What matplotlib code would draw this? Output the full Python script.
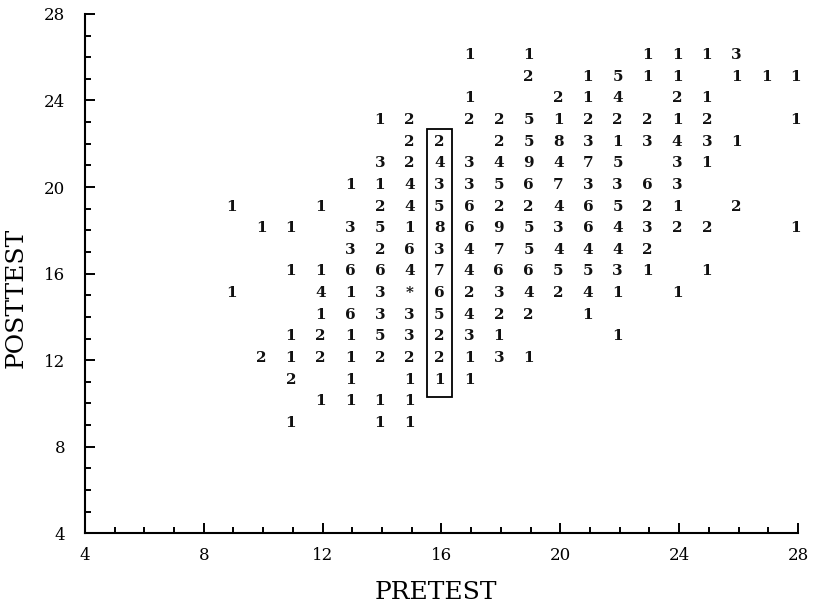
"""Pretest/posttest frequency plot: counts drawn at each score pair."""

import matplotlib.pyplot as plt
from matplotlib.patches import Rectangle
from matplotlib.ticker import MultipleLocator

# Pretest scores along the columns, posttest scores down the rows.
PRETEST_SCORES = list(range(9, 29))
POSTTEST_SCORES = list(range(26, 8, -1))

# Number of students at each (pretest, posttest) pair; "." = none.
COUNT_ROWS = [
    "........1.1...1113..",  # 26
    "..........2.1511.111",  # 25
    "........1..214.21...",  # 24
    ".....12.225122212..1",  # 23
    "......22.258313431..",  # 22
    ".....324349475.31...",  # 21
    "....114335673363....",  # 20
    "1..1.24562246521.2..",  # 19
    ".11.3518695364322..1",  # 18
    "....32634754442.....",  # 17
    "..1166474665531.1...",  # 16
    "1..413*6234241.1....",  # 15
    "...16335422.1.......",  # 14
    "..12153231...1......",  # 13
    ".2121222131.........",  # 12
    "..2.1.111...........",  # 11
    "...1111.............",  # 10
    "..1..11.............",  # 9
]

HIGHLIGHT_PRETEST = 16

SERIF = ["DejaVu Serif"]

fig = plt.figure(figsize=(8.16, 6.06), dpi=100)
ax = fig.add_axes([0.104, 0.12, 0.874, 0.857])

for post, row in zip(POSTTEST_SCORES, COUNT_ROWS):
    for pre, ch in zip(PRETEST_SCORES, row):
        if ch == ".":
            continue
        ax.text(pre - 0.07, post + 0.1, ch, ha="center", va="center",
                fontsize=11, fontweight="bold", family=SERIF, color="#111111")

# frame around the highlighted pretest column
col = [POSTTEST_SCORES[i] for i, r in enumerate(COUNT_ROWS)
       if r[PRETEST_SCORES.index(HIGHLIGHT_PRETEST)] != "."]
ax.add_patch(Rectangle((HIGHLIGHT_PRETEST - 0.5, min(col) - 0.7), 0.86,
                       max(col) - min(col) + 1.4, fill=False,
                       edgecolor="black", linewidth=1.3))

ax.set_xlim(4, 28)
ax.set_ylim(4, 28)
ax.xaxis.set_major_locator(MultipleLocator(4))
ax.yaxis.set_major_locator(MultipleLocator(4))
ax.xaxis.set_minor_locator(MultipleLocator(1))
ax.yaxis.set_minor_locator(MultipleLocator(1))
ax.tick_params(which="both", direction="in", width=1.4, color="black")
ax.tick_params(which="major", length=7, labelsize=12)
ax.tick_params(axis="x", which="major", pad=10)
ax.tick_params(axis="y", which="major", pad=14)
ax.tick_params(which="minor", length=4)
for lab in ax.get_xticklabels() + ax.get_yticklabels():
    lab.set_family(SERIF)

for side in ("top", "right"):
    ax.spines[side].set_visible(False)
for side in ("left", "bottom"):
    ax.spines[side].set_linewidth(1.5)

ax.set_xlabel("PRETEST", family=SERIF, fontsize=18)
ax.set_ylabel("POSTTEST", family=SERIF, fontsize=18)
ax.xaxis.set_label_coords(0.492, -0.092)
ax.yaxis.set_label_coords(-0.080, 0.453)

fig.savefig("out.png", dpi=100)
